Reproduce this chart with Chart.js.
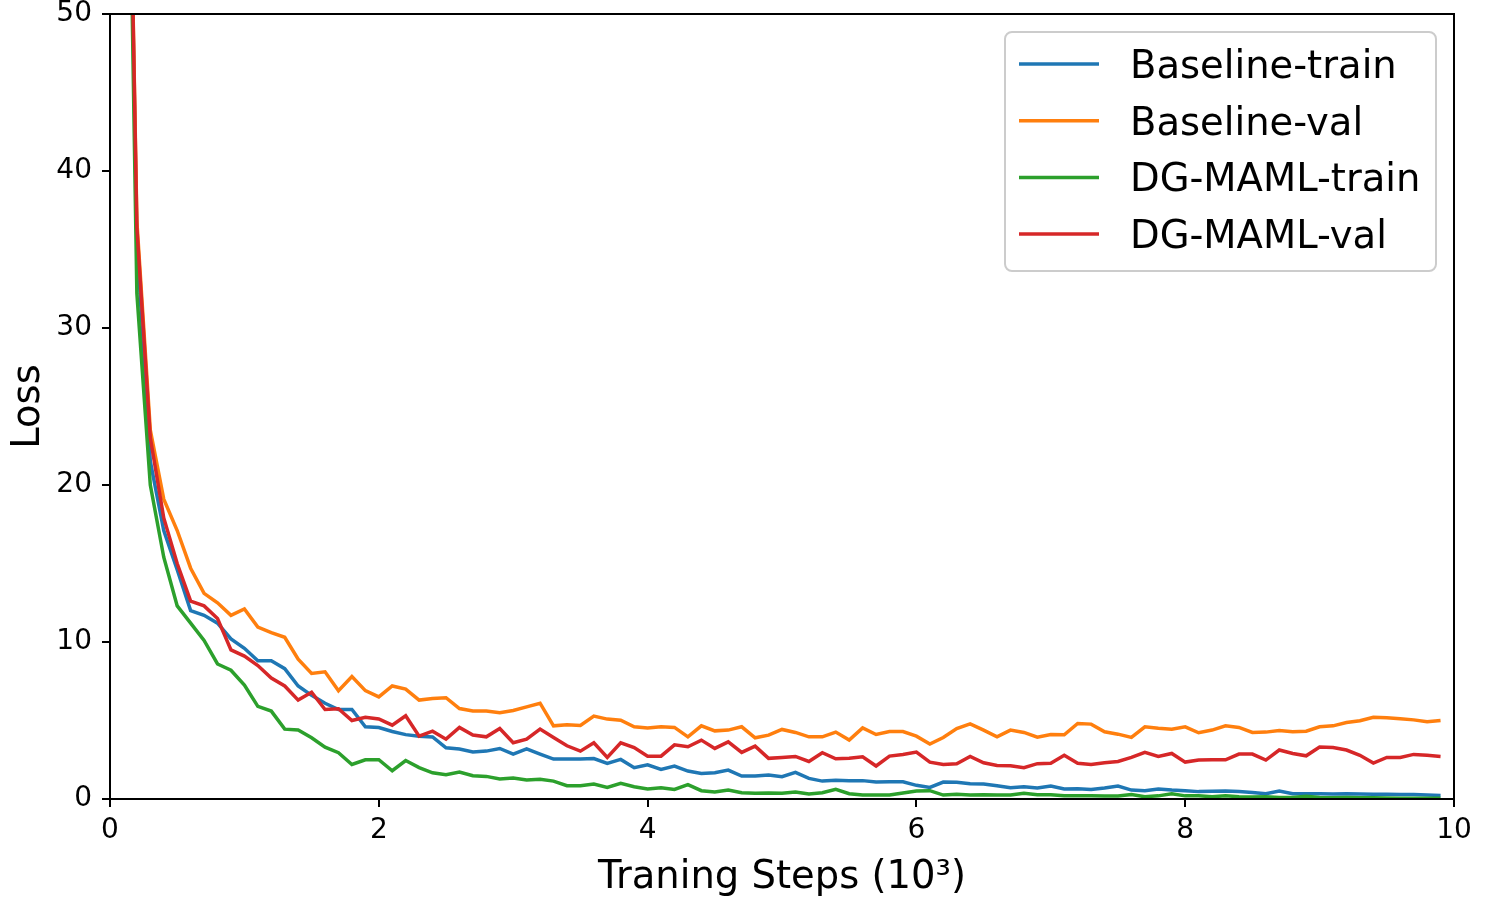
<!DOCTYPE html>
<html>
<head>
<meta charset="utf-8">
<title>Loss curves</title>
<script src="https://cdn.jsdelivr.net/npm/chart.js@4/dist/chart.umd.min.js"></script>
<style>
  html, body { margin: 0; padding: 0; background: #fff; }
  #wrap { width: 1486px; height: 901px; }
</style>
</head>
<body>
<div id="wrap"><canvas id="loss_chart" width="1486" height="901"></canvas></div>
<script>
// training steps in thousands
const steps = [0.1,0.2,0.3,0.4,0.5,0.6,0.7,0.8,0.9,1.0,
  1.1,1.2,1.3,1.4,1.5,1.6,1.7,1.8,1.9,2.0,
  2.1,2.2,2.3,2.4,2.5,2.6,2.7,2.8,2.9,3.0,
  3.1,3.2,3.3,3.4,3.5,3.6,3.7,3.8,3.9,4.0,
  4.1,4.2,4.3,4.4,4.5,4.6,4.7,4.8,4.9,5.0,
  5.1,5.2,5.3,5.4,5.5,5.6,5.7,5.8,5.9,6.0,
  6.1,6.2,6.3,6.4,6.5,6.6,6.7,6.8,6.9,7.0,
  7.1,7.2,7.3,7.4,7.5,7.6,7.7,7.8,7.9,8.0,
  8.1,8.2,8.3,8.4,8.5,8.6,8.7,8.8,8.9,9.0,
  9.1,9.2,9.3,9.4,9.5,9.6,9.7,9.8,9.9];

const baseline_train = [84,35.5,21.5,17.1,14.6,12.0,11.7,11.2,10.2,9.6,
  8.8,8.8,8.3,7.2,6.6,6.1,5.7,5.7,4.6,4.55,
  4.3,4.1,4.0,3.95,3.26,3.18,3.0,3.05,3.22,2.86,
  3.2,2.86,2.54,2.54,2.54,2.58,2.27,2.52,1.99,2.18,
  1.89,2.1,1.78,1.63,1.67,1.84,1.46,1.46,1.53,1.42,
  1.7,1.31,1.14,1.19,1.17,1.17,1.08,1.1,1.1,0.87,
  0.74,1.08,1.06,0.97,0.95,0.85,0.72,0.78,0.7,0.83,
  0.64,0.66,0.61,0.7,0.83,0.57,0.53,0.64,0.57,0.53,
  0.47,0.5,0.51,0.47,0.42,0.34,0.51,0.34,0.34,0.34,
  0.32,0.34,0.32,0.3,0.3,0.28,0.28,0.25,0.23];

const baseline_val = [84,36.8,23.5,19.1,17.1,14.7,13.1,12.5,11.7,12.1,
  10.95,10.6,10.3,8.9,8.0,8.1,6.9,7.8,6.9,6.5,
  7.2,7.0,6.3,6.4,6.45,5.76,5.6,5.6,5.5,5.64,
  5.87,6.1,4.66,4.73,4.68,5.28,5.09,5.02,4.6,4.53,
  4.6,4.56,3.96,4.66,4.34,4.39,4.6,3.9,4.07,4.43,
  4.24,3.96,3.96,4.26,3.75,4.53,4.11,4.3,4.3,4.0,
  3.5,3.92,4.49,4.79,4.39,3.96,4.39,4.24,3.94,4.11,
  4.09,4.81,4.77,4.28,4.13,3.92,4.6,4.51,4.45,4.6,
  4.22,4.39,4.66,4.56,4.24,4.26,4.37,4.28,4.32,4.6,
  4.66,4.87,4.98,5.21,5.17,5.11,5.04,4.92,5.0];

const dgmaml_train = [84,32.2,20.0,15.4,12.3,11.2,10.1,8.6,8.2,7.25,
  5.9,5.6,4.45,4.4,3.9,3.3,2.95,2.2,2.5,2.5,
  1.8,2.45,2.0,1.67,1.55,1.72,1.48,1.44,1.27,1.33,
  1.21,1.25,1.14,0.85,0.85,0.95,0.74,1.0,0.78,0.64,
  0.72,0.61,0.91,0.53,0.45,0.57,0.4,0.36,0.38,0.36,
  0.45,0.32,0.4,0.61,0.34,0.25,0.25,0.25,0.38,0.51,
  0.53,0.25,0.3,0.25,0.27,0.25,0.25,0.36,0.27,0.27,
  0.21,0.2,0.2,0.19,0.19,0.28,0.15,0.2,0.34,0.2,
  0.2,0.15,0.2,0.15,0.12,0.15,0.1,0.1,0.18,0.1,
  0.08,0.1,0.08,0.08,0.06,0.05,0.05,0.05,0.05];

const dgmaml_val = [84,36.4,23.0,17.9,15.0,12.6,12.3,11.5,9.5,9.1,
  8.5,7.7,7.2,6.3,6.8,5.7,5.75,5.0,5.2,5.1,
  4.7,5.3,4.0,4.32,3.81,4.56,4.07,3.96,4.49,3.58,
  3.81,4.45,3.92,3.39,3.05,3.58,2.65,3.58,3.28,2.73,
  2.73,3.45,3.33,3.75,3.22,3.64,2.97,3.37,2.59,2.65,
  2.71,2.39,2.95,2.56,2.59,2.69,2.1,2.73,2.84,2.99,
  2.35,2.2,2.25,2.71,2.31,2.14,2.12,1.99,2.25,2.27,
  2.78,2.27,2.2,2.31,2.39,2.65,2.97,2.71,2.9,2.35,
  2.48,2.5,2.5,2.86,2.86,2.48,3.12,2.9,2.75,3.31,
  3.28,3.12,2.78,2.29,2.65,2.65,2.84,2.78,2.71];

const series_names = ['Baseline-train','Baseline-val','DG-MAML-train','DG-MAML-val'];
const series_colors = ['#1f77b4','#ff7f0e','#2ca02c','#d62728'];
const x_ticks = [0,2,4,6,8,10];
const y_ticks = [0,10,20,30,40,50];

const font_family = '"DejaVu Sans", sans-serif';

function to_points(vals) {
    return vals.map((v, i) => ({x: steps[i], y: v}));
}

// matplotlib style frame + legend box in the upper right
const frame_and_legend = {
    id: 'frame_and_legend',
    afterDatasetsDraw(chart) {
        const ctx = chart.ctx;
        const a = chart.chartArea;
        ctx.save();
        ctx.strokeStyle = '#000';
        ctx.lineWidth = 2;
        ctx.strokeRect(a.left, a.top, a.right - a.left, a.bottom - a.top);

        // legend
        const bx = 1005, by = 32, bw = 431, bh = 239, r = 7;
        ctx.beginPath();
        ctx.moveTo(bx + r, by);
        ctx.arcTo(bx + bw, by, bx + bw, by + bh, r);
        ctx.arcTo(bx + bw, by + bh, bx, by + bh, r);
        ctx.arcTo(bx, by + bh, bx, by, r);
        ctx.arcTo(bx, by, bx + bw, by, r);
        ctx.closePath();
        ctx.fillStyle = 'rgba(255,255,255,0.8)';
        ctx.fill();
        ctx.strokeStyle = '#cccccc';
        ctx.lineWidth = 2;
        ctx.stroke();

        ctx.font = '38.5px ' + font_family;
        ctx.textAlign = 'left';
        ctx.textBaseline = 'alphabetic';
        chart.data.datasets.forEach((ds, i) => {
            const cy = 64 + i * 56.7;
            ctx.strokeStyle = ds.borderColor;
            ctx.lineWidth = 3.5;
            ctx.beginPath();
            ctx.moveTo(1019, cy);
            ctx.lineTo(1099, cy);
            ctx.stroke();
            ctx.fillStyle = '#000';
            ctx.fillText(ds.label, 1130, cy + 14);
        });
        ctx.restore();
    }
};

const all_series = [baseline_train, baseline_val, dgmaml_train, dgmaml_val];
// red drawn last (on top), blue first
const draw_order = [3, 2, 1, 0];

new Chart(document.querySelector('#loss_chart').getContext('2d'), {
    type: 'line',
    data: {
        datasets: all_series.map((vals, i) => ({
            label: series_names[i],
            data: to_points(vals),
            borderColor: series_colors[i],
            backgroundColor: series_colors[i],
            borderWidth: 3.5,
            pointRadius: 0,
            tension: 0,
            fill: false,
            clip: 0,
            order: draw_order[i]
        }))
    },
    options: {
        responsive: false,
        animation: false,
        devicePixelRatio: 1,
        layout: { padding: { left: 0, top: 14, right: 32, bottom: 0 } },
        plugins: {
            legend: { display: false },
            tooltip: { enabled: false }
        },
        scales: {
            x: {
                type: 'linear',
                min: 0,
                max: 10,
                afterBuildTicks: (scale) => { scale.ticks = x_ticks.map(v => ({value: v})); },
                afterFit: (scale) => { scale.height = 102; scale.paddingLeft = 0; scale.paddingRight = 0; },
                ticks: {
                    color: '#000',
                    padding: 7,
                    maxRotation: 0,
                    font: { family: font_family, size: 28, lineHeight: 1.2 }
                },
                grid: { display: true, drawOnChartArea: false, drawTicks: true, tickLength: 8, color: '#000', lineWidth: 2 },
                border: { display: true, color: '#000', width: 2 },
                title: {
                    display: true,
                    text: 'Traning Steps (10\u00B3)',
                    color: '#000',
                    font: { family: font_family, size: 38.5, lineHeight: 1.2 },
                    padding: { top: 0, bottom: 0 }
                }
            },
            y: {
                type: 'linear',
                min: 0,
                max: 50,
                afterBuildTicks: (scale) => { scale.ticks = y_ticks.map(v => ({value: v})); },
                afterFit: (scale) => { scale.width = 110; scale.paddingTop = 0; scale.paddingBottom = 0; },
                ticks: {
                    color: '#000',
                    padding: 10,
                    font: { family: font_family, size: 28, lineHeight: 1.2 }
                },
                grid: { display: true, drawOnChartArea: false, drawTicks: true, tickLength: 8, color: '#000', lineWidth: 2 },
                border: { display: true, color: '#000', width: 2 },
                title: {
                    display: true,
                    text: 'Loss',
                    color: '#000',
                    font: { family: font_family, size: 38.5, lineHeight: 1.2 },
                    padding: { top: 6, bottom: 0 }
                }
            }
        }
    },
    plugins: [frame_and_legend]
});
</script>
</body>
</html>
